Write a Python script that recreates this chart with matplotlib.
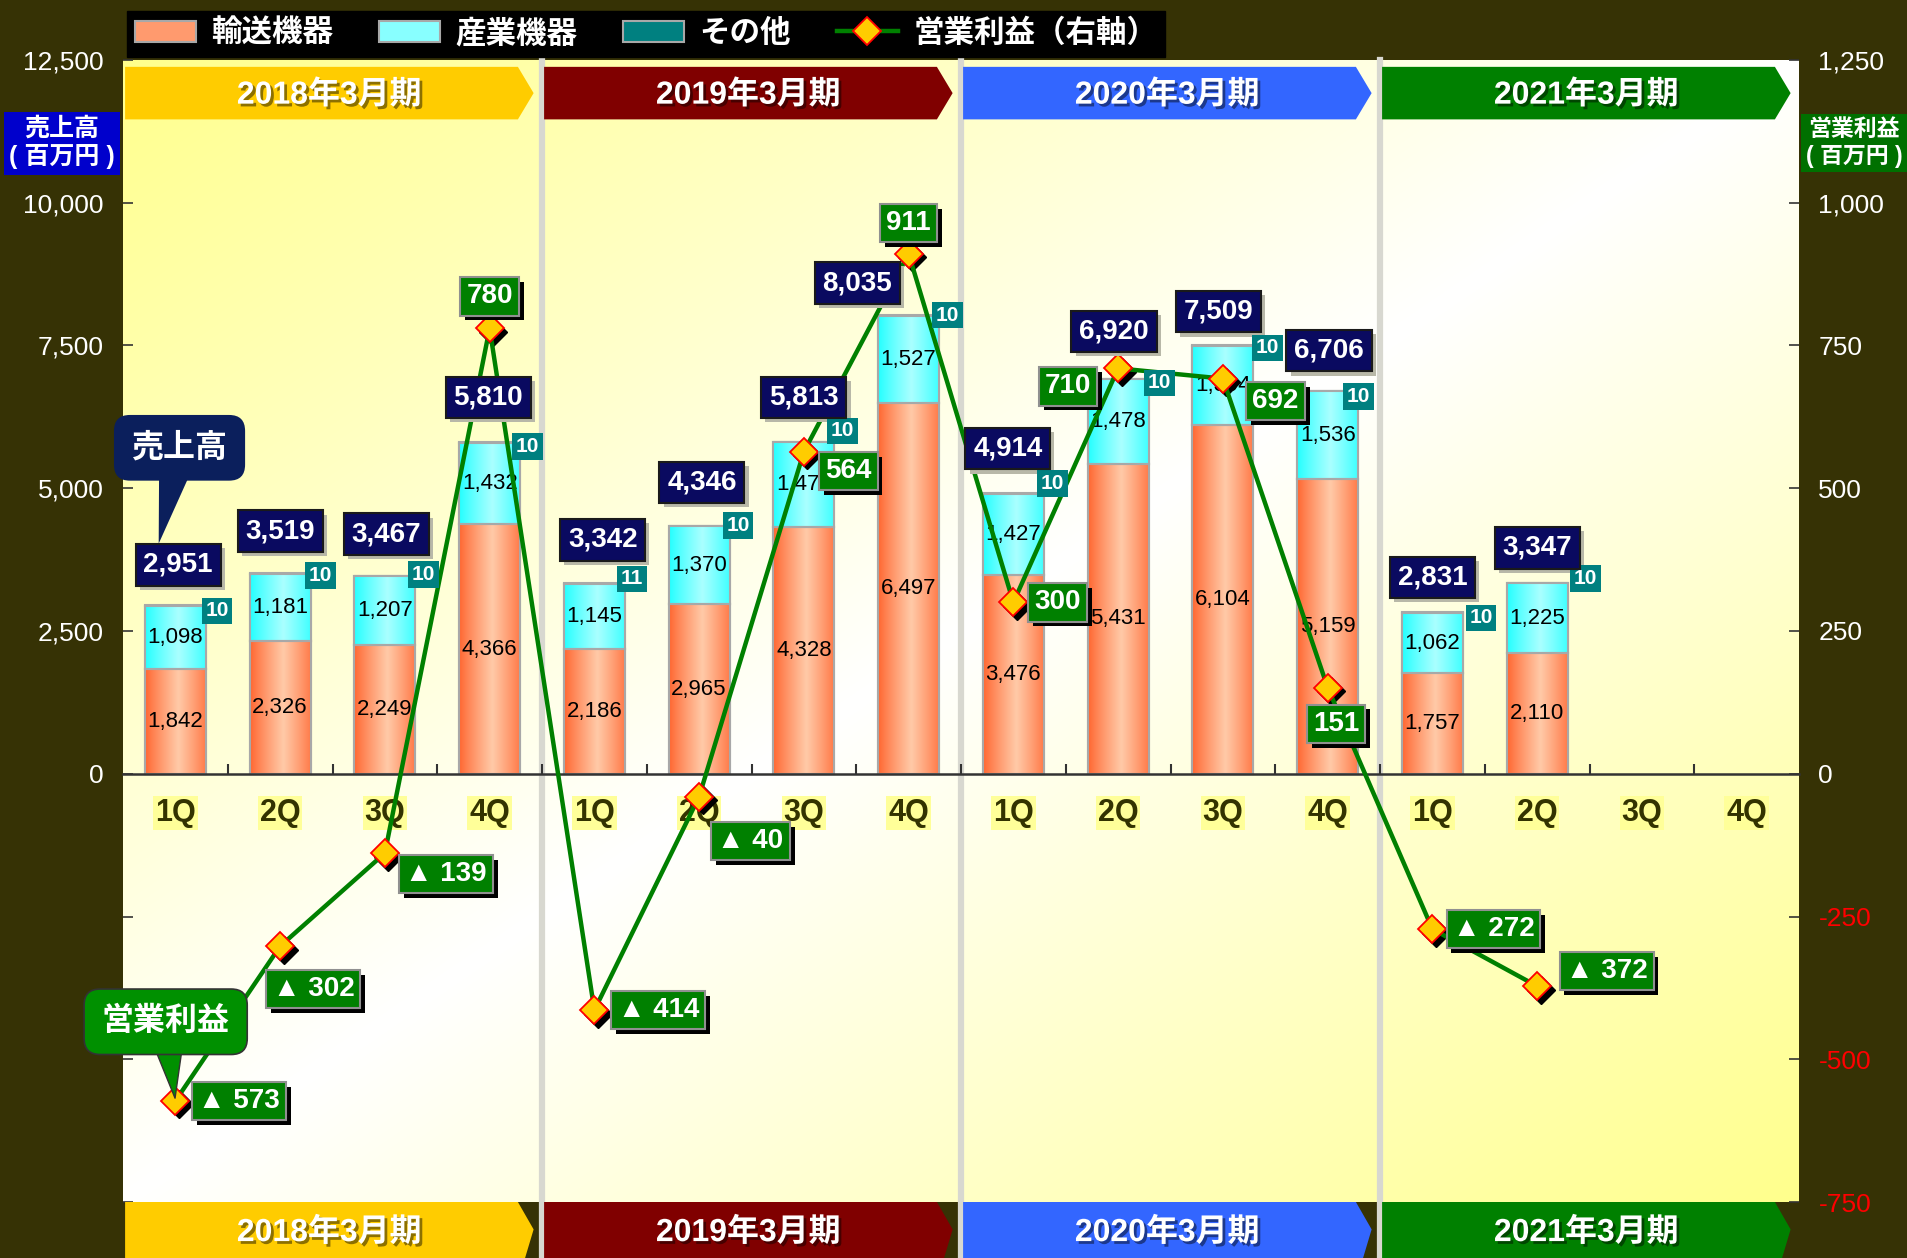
import numpy as np
import matplotlib
matplotlib.use('Agg')
import matplotlib.pyplot as plt
from matplotlib.patches import Polygon
import matplotlib.patheffects as pe
import matplotlib.transforms as mtrans
from matplotlib.text import OffsetFrom

plt.rcParams['font.family'] = ['Liberation Sans', 'Noto Sans CJK JP', 'DejaVu Sans']

# ---------------- data ----------------
quarters = ['1Q', '2Q', '3Q', '4Q'] * 4
years = ['2018年3月期', '2019年3月期', '2020年3月期', '2021年3月期']
year_colors = ['#ffcc00', '#800000', '#3366ff', '#008000']
transport = [1842, 2326, 2249, 4366, 2186, 2965, 4328, 6497, 3476, 5431, 6104, 5159, 1757, 2110]
industrial = [1098, 1181, 1207, 1432, 1145, 1370, 1474, 1527, 1427, 1478, 1394, 1536, 1062, 1225]
other = [10, 10, 10, 10, 11, 10, 10, 10, 10, 10, 10, 10, 10, 10]
totals = [2951, 3519, 3467, 5810, 3342, 4346, 5813, 8035, 4914, 6920, 7509, 6706, 2831, 3347]
profit = [-573, -302, -139, 780, -414, -40, 564, 911, 300, 710, 692, 151, -272, -372]
left_ticks = [-7500, -5000, -2500, 0, 2500, 5000, 7500, 10000, 12500]
right_ticks = [-750, -500, -250, 0, 250, 500, 750, 1000, 1250]

# label offsets (points)
total_off = [(2, 29), (0, 30), (1, 30), (-1, 32), (6, 31), (2, 31), (0, 32), (-37, 23),
             (-4, 32), (-3, 34), (-3, 24), (1, 29), (0, 25), (0, 25)]
other_off = [(30, -4), (29, -2), (28, 1), (27, -3), (27, 3), (28, 0), (28, 8), (28, 0),
             (28, 7), (30, -3), (32, -2), (22, -4), (35, -4), (35, 3)]
profit_off = [(46, 0), (24, -31), (44, -15), (0, 23), (46, 0), (37, -32), (32, -14), (0, 22),
              (32, 0), (-36, -13), (38, -16), (6, -26), (44, 0), (50, 11)]

BG = '#363205'
W, H = 1907, 1258
fig = plt.figure(figsize=(W / 100, H / 100), dpi=100, facecolor=BG)
ax = fig.add_axes([123 / W, (H - 1202) / H, (1799 - 123) / W, (1202 - 60) / H])
ax.set_facecolor('white')

# background gradient
gw, gh = 300, 200
u = np.linspace(0, 1, gw)[None, :]
v = np.linspace(0, 1, gh)[:, None]
t = np.abs((u + v) / 2 - 0.5) * 2
t = np.clip(t, 0, 1) ** 1.0
white = np.array([1.0, 1.0, 1.0])
yellow = np.array([1.0, 1.0, 0.55])
bg = white * (1 - t)[..., None] + yellow * t[..., None]
ax.imshow(bg, extent=[0, 1, 0, 1], transform=ax.transAxes, aspect='auto',
          origin='upper', zorder=0, interpolation='bilinear')

x = np.arange(len(transport))
bw = 0.58
bottom2 = np.array(transport)
bottom3 = np.array(transport) + np.array(industrial)
b1 = ax.bar(x, transport, width=bw, color='#ff9a6e', edgecolor='#a8a8a8', lw=1.5,
            zorder=2, label='輸送機器')
b2 = ax.bar(x, industrial, width=bw, bottom=bottom2, color='#88ffff', edgecolor='#a8a8a8',
            lw=1.5, zorder=2, label='産業機器')
b3 = ax.bar(x, other, width=bw, bottom=bottom3, color='#008080', edgecolor='#a8a8a8',
            lw=1.5, zorder=2, label='その他')


def grad_fill(bars, edge, center, peak=0.55):
    prof = np.linspace(0, 1, 120)
    light = np.clip(1 - np.abs(prof - peak) / 0.55, 0, 1) ** 0.9
    e = np.array(matplotlib.colors.to_rgb(edge))
    c = np.array(matplotlib.colors.to_rgb(center))
    row = e * (1 - light)[:, None] + c * light[:, None]
    arr = np.repeat(row[None, :, :], 2, axis=0)
    for p in bars:
        x0, y0 = p.get_xy()
        im = ax.imshow(arr, extent=[x0, x0 + p.get_width(), y0, y0 + p.get_height()],
                       aspect='auto', zorder=2.1, interpolation='bilinear')
        im.set_clip_path(p)


grad_fill(b1, '#ff6630', '#ffcaa8')
grad_fill(b2, '#22ffff', '#aaffff')
ax.bar(x, transport, width=bw, fill=False, edgecolor='#a8a8a8', lw=1.5, zorder=2.2)
ax.bar(x, industrial, width=bw, bottom=bottom2, fill=False, edgecolor='#a8a8a8', lw=1.5, zorder=2.2)

ax.set_xlim(-0.5, 15.5)
ax.set_ylim(-7500, 12500)
ax.set_autoscale_on(False)

btr = mtrans.blended_transform_factory(ax.transData, ax.transAxes)
# year separators
for k in range(1, 4):
    ax.plot([4 * k - 0.5] * 2, [-0.06, 1], transform=btr,
            color='#d8d8d0', lw=4.5, zorder=1, clip_on=False)

# year banners
shadow_fx = [pe.withSimplePatchShadow(offset=(2, -2), shadow_rgbFace='black', alpha=0.45)]
for k, (yl, yc) in enumerate(zip(years, year_colors)):
    x0 = 4 * k - 0.48
    x1 = 4 * k + 3.42
    n = 0.15
    ya, yb = 0.948, 0.994
    ax.add_patch(Polygon([(x0, ya), (x1 - n, ya), (x1, (ya + yb) / 2), (x1 - n, yb), (x0, yb)],
                         closed=True, transform=btr, fc=yc, ec='none', zorder=3, clip_on=False))
    ya, yb = -0.07, 0.0
    ax.add_patch(Polygon([(x0, ya), (x1 - n, ya), (x1, -0.024), (x1 - n, yb), (x0, yb)],
                         closed=True, transform=btr, fc=yc, ec='none', zorder=3, clip_on=False))
    ax.text(4 * k + 1.47, 0.969, yl, transform=btr, ha='center', va='center', fontsize=23,
            weight='bold', color='white', zorder=4, path_effects=shadow_fx)
    ax.text(4 * k + 1.47, -0.027, yl, transform=btr, ha='center', va='center', fontsize=23,
            weight='bold', color='white', zorder=4, path_effects=shadow_fx, clip_on=False)

# axes styling
for s in ['left', 'right', 'top']:
    ax.spines[s].set_visible(False)
ax.spines['bottom'].set_position(('data', 0))
ax.spines['bottom'].set_color('#333333')
ax.spines['bottom'].set_linewidth(1.8)
ax.spines['bottom'].set_zorder(2.5)
ax.set_xticks([])
ax.set_xticks(np.arange(0.5, 15.5, 1), minor=True)
ax.tick_params(axis='x', which='minor', direction='in', length=7, width=1.5, color='#333333')
ax.set_yticks(left_ticks, labels=[f'{v:,}' if v >= 0 else '' for v in left_ticks])
ax.tick_params(axis='y', direction='in', length=7, width=1.2, color='#333333', labelcolor='white',
               labelsize=19, pad=14)

ax2 = ax.twinx()
ax2.set_ylim(-750, 1250)
for s in ax2.spines.values():
    s.set_visible(False)
ax2.set_yticks(right_ticks, labels=[f'{v:,}' for v in right_ticks])
ax2.tick_params(axis='y', direction='in', length=7, width=1.2, color='#333333', labelsize=19, pad=14)
for lbl, v in zip(ax2.get_yticklabels(), right_ticks):
    lbl.set_color('#ff0000' if v < 0 else 'white')

# quarter labels
for i, q in enumerate(quarters):
    ax.text(i, -690, q, ha='center', va='center', fontsize=22, weight='bold', color='#333300',
            bbox=dict(boxstyle='square,pad=0.06', fc='#ffff99', ec='none'), zorder=3)

# segment labels
for i in range(len(transport)):
    ax.text(i, transport[i] / 2, f'{transport[i]:,}', ha='center', va='center', fontsize=16,
            color='black', zorder=3)
    ax.text(i, transport[i] + industrial[i] / 2, f'{industrial[i]:,}', ha='center', va='center',
            fontsize=16, color='black', zorder=3)

# profit line
shadow_tr = mtrans.offset_copy(ax2.transData, fig=fig, x=2.5, y=-2.5, units='points')
ax2.plot(x, profit, ls='none', marker='D', ms=14, color='black', transform=shadow_tr, zorder=4.8)
line, = ax2.plot(x, profit, color='#008000', lw=3.2, marker='D', ms=14, mfc='#ffcc00', mec='#ff0000',
                 mew=1.3, zorder=5, label='営業利益（右軸）')


def boxlabel(text, xy, xycoords, off, fc, fs, ec='none', shadow=None, sh=3, z=7, pad=0.25):
    if shadow is not None:
        ax2.annotate(text, xy, xycoords=xycoords, xytext=(off[0] + sh, off[1] - sh),
                     textcoords='offset points', ha='center', va='center', fontsize=fs, weight='bold',
                     color=shadow, bbox=dict(boxstyle=f'square,pad={pad}', fc=shadow, ec='none'),
                     zorder=z - 0.5)
    return ax2.annotate(text, xy, xycoords=xycoords, xytext=off, textcoords='offset points',
                        ha='center', va='center', fontsize=fs, weight='bold', color='white',
                        bbox=dict(boxstyle=f'square,pad={pad}', fc=fc, ec=ec, lw=1.5), zorder=z)


total_anns = []
for i in range(len(totals)):
    a = boxlabel(f'{totals[i]:,}', (i, totals[i]), ax.transData, total_off[i], '#0a0a60', 20,
                 ec='#1a1a1a', shadow='#b8b8a8', sh=3, z=7, pad=0.28)
    total_anns.append(a)
    boxlabel(f'{other[i]}', (i, bottom3[i] + other[i]), ax.transData, other_off[i], '#008080',
             15, z=6.5, pad=0.18)

for i in range(len(profit)):
    txt = f'▲ {abs(profit[i])}' if profit[i] < 0 else f'{profit[i]}'
    boxlabel(txt, (i, profit[i]), ax2.transData, profit_off[i], '#008000', 20, ec='#909090',
             shadow='black', sh=3.5, z=7, pad=0.22)

# callouts
ax2.annotate('売上高', xy=(0, 6), xycoords=OffsetFrom(total_anns[0], (0.22, 1.0), unit='points'),
             xytext=(15, 69), textcoords='offset points', ha='center', va='center', fontsize=23,
             weight='bold', color='white',
             bbox=dict(boxstyle='round,pad=0.55,rounding_size=0.5', fc='#0b1f5c', ec='none'),
             arrowprops=dict(arrowstyle='wedge,tail_width=1.3,shrink_factor=0.5', fc='#0b1f5c',
                             ec='none', patchA=None, shrinkA=0, shrinkB=0),
             zorder=9)
ax2.annotate('営業利益', xy=(0, profit[0]), xycoords=ax2.transData,
             xytext=(-7, 57), textcoords='offset points', ha='center', va='center', fontsize=23,
             weight='bold', color='white',
             bbox=dict(boxstyle='round,pad=0.55,rounding_size=0.5', fc='#009000', ec='#333333', lw=1.2),
             arrowprops=dict(arrowstyle='wedge,tail_width=1.3,shrink_factor=0.5', fc='#009000',
                             ec='#333333', patchA=None, shrinkA=0, shrinkB=2),
             zorder=9)

# axis title boxes
fig.text(62 / W, 1 - 143 / H, '売上高\n( 百万円 )', ha='center', va='center', color='white',
         weight='bold', fontsize=18, linespacing=1.15,
         bbox=dict(boxstyle='square,pad=0.22', fc='#0000cc', ec='none'))
fig.text(1854 / W, 1 - 143 / H, '営業利益\n( 百万円 )', ha='center', va='center', color='white',
         weight='bold', fontsize=16.5, linespacing=1.2,
         bbox=dict(boxstyle='square,pad=0.2', fc='#007000', ec='none'))

# legend
leg = fig.legend(handles=[b1, b2, b3, line], labels=['輸送機器', '産業機器', 'その他', '営業利益（右軸）'],
                 loc='center', bbox_to_anchor=(646 / W, 1 - 34 / H), ncol=4, frameon=True,
                 facecolor='black', edgecolor='black', framealpha=1, fancybox=False, labelcolor='white',
                 prop={'size': 22, 'weight': 'bold'}, handlelength=2.0, handleheight=0.7,
                 columnspacing=1.5, borderpad=0.25, handletextpad=0.5)
leg.set_zorder(10)

fig.savefig('out.png', dpi=100, facecolor=BG)
